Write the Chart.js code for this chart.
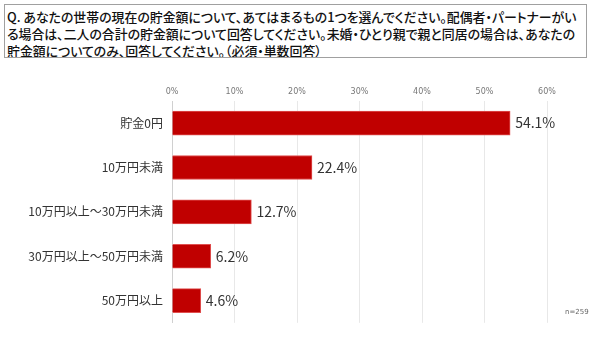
<!DOCTYPE html>
<html lang="ja">
<head>
<meta charset="utf-8">
<script src="https://cdn.jsdelivr.net/npm/chart.js@4"></script>
<style>
  body { margin: 0; background: #fff; width: 616px; height: 339px; overflow: hidden; position: relative; font-family: "Noto Sans CJK JP", sans-serif; }
  #question {
    position: absolute; left: 4px; top: 4px; width: 579px; height: 49px;
    border: 1.5px solid #a0a0a0; padding: 3px 0 0 2px;
    font-size: 12.9px; line-height: 17px; color: #111; font-weight: 500;
    font-feature-settings: "palt"; letter-spacing: 0;
    white-space: nowrap; overflow: hidden;
  }
  #wrap { position: absolute; left: 0; top: 81px; width: 616px; height: 258px; }
  #note { position: absolute; left: 565px; top: 308px; font-size: 7px; color: #666; font-family: "DejaVu Sans", sans-serif; }
</style>
</head>
<body>
<div id="question">Q. あなたの世帯の現在の貯金額について、あてはまるもの1つを選んでください。配偶者・パートナーがい<br>る場合は、二人の合計の貯金額について回答してください。未婚・ひとり親で親と同居の場合は、あなたの<br>貯金額についてのみ、回答してください。（必須・単数回答）</div>
<div id="wrap"><canvas id="chart"></canvas></div>
<div id="note">n=259</div>
<script>
const categories = ['貯金0円', '10万円未満', '10万円以上～30万円未満', '30万円以上～50万円未満', '50万円以上'];
const shares = [54.1, 22.4, 12.7, 6.2, 4.6];
const tickValues = [0, 10, 20, 30, 40, 50, 60];

const valueLabels = {
  id: 'valueLabels',
  afterDatasetsDraw(chart) {
    const ctx = chart.ctx;
    const meta = chart.getDatasetMeta(0);
    ctx.save();
    ctx.font = '14px "Noto Sans CJK JP", sans-serif';
    ctx.fillStyle = '#333';
    ctx.textBaseline = 'middle';
    meta.data.forEach((bar, i) => {
      ctx.fillText(shares[i].toFixed(1) + '%', bar.x + 5, bar.y);
    });
    ctx.restore();
  }
};

new Chart(document.getElementById('chart'), {
  type: 'bar',
  data: {
    labels: categories,
    datasets: [{
      data: shares,
      backgroundColor: '#c00000',
      borderColor: '#e05050',
      borderWidth: 1,
      barThickness: 24
    }]
  },
  options: {
    indexAxis: 'y',
    responsive: true,
    maintainAspectRatio: false,
    animation: false,
    layout: { padding: { right: 69, bottom: 0, top: 0 } },
    plugins: { legend: { display: false }, tooltip: { enabled: false } },
    scales: {
      x: {
        position: 'top',
        min: 0, max: 60,
        afterBuildTicks: s => { s.ticks = tickValues.map(v => ({ value: v })); },
        afterFit: s => { s.height = 20; },
        ticks: {
          callback: v => v + '%',
          color: '#777',
          font: { size: 8, family: '"DejaVu Sans", sans-serif' },
          padding: 4
        },
        grid: { color: '#e8e8e8', drawTicks: false },
        border: { display: false }
      },
      y: {
        afterFit: s => { s.width = 172; },
        ticks: {
          color: '#333',
          font: { size: 12, family: '"Noto Sans CJK JP", sans-serif' },
          padding: 9
        },
        grid: { display: false, drawTicks: false },
        border: { color: '#d0d0d0' }
      }
    }
  },
  plugins: [valueLabels]
});
</script>
</body>
</html>
